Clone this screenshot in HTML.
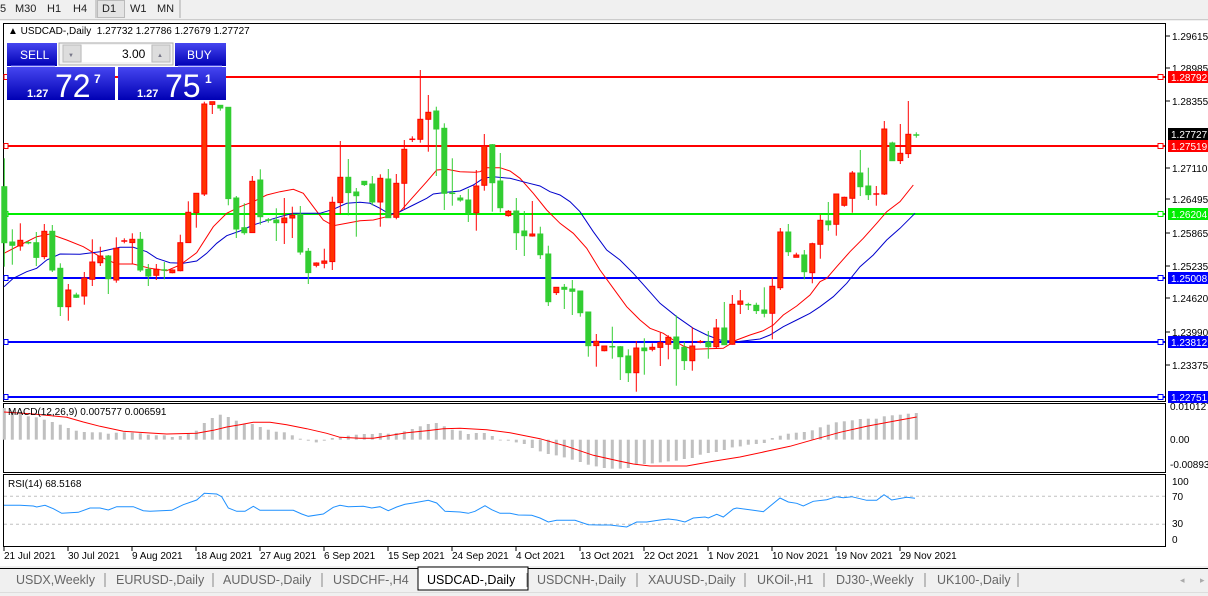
<!DOCTYPE html>
<html><head><meta charset="utf-8"><style>
body{margin:0;width:1208px;height:596px;overflow:hidden;background:#f0f0f0;font-family:"Liberation Sans",sans-serif;}
svg{position:absolute;left:0;top:0}
</style></head><body>
<svg id="s" width="1208" height="596" xmlns="http://www.w3.org/2000/svg" font-family="Liberation Sans, sans-serif">
<rect x="0" y="0" width="1208" height="596" fill="#f0f0f0"/>
<!-- toolbar -->
<g font-size="11" fill="#222">
<text x="0" y="12">5</text><text x="15" y="12">M30</text><text x="47" y="12">H1</text><text x="73" y="12">H4</text>
<line x1="96" y1="0" x2="96" y2="18" stroke="#aaa"/>
<rect x="97.5" y="0.5" width="27" height="17" fill="#e4e4e4" stroke="#bbb"/>
<text x="102" y="12">D1</text><text x="130" y="12">W1</text><text x="157" y="12">MN</text>
<line x1="180" y1="0" x2="180" y2="18" stroke="#aaa"/>
</g>
<line x1="0" y1="19.5" x2="1208" y2="19.5" stroke="#ccc"/>
<rect x="0" y="21" width="1208" height="545" fill="#fff"/>
<g id="g"></g>
</svg>
<script>
const g=document.getElementById('g');let h='';
function L(x1,y1,x2,y2,c,w,extra){h+=`<line x1="${x1}" y1="${y1}" x2="${x2}" y2="${y2}" stroke="${c}" stroke-width="${w||1}" ${extra||''}/>`;}
function R(x,y,w,hh,f,s){h+=`<rect x="${x}" y="${y}" width="${w}" height="${hh}" fill="${f}" ${s?`stroke="${s}"`:''}/>`;}
function T(x,y,t,sz,c,extra){h+=`<text x="${x}" y="${y}" font-size="${sz}" fill="${c}" ${extra||''}>${t}</text>`;}
function P(pts,c,w){h+=`<polyline points="${pts.map(p=>p.join(',')).join(' ')}" fill="none" stroke="${c}" stroke-width="${w||1}"/>`;}
// frames
R(3.5,23.5,1162,378,'none','#000');
R(3.5,403.5,1162,69,'none','#000');
R(3.5,474.5,1162,72,'none','#000');
// horizontal levels
const lv=[[77,'#ff0000','1.28792'],[146,'#ff0000','1.27519'],[214,'#00ee00','1.26204'],[278,'#0000ff','1.25008'],[342,'#0000ff','1.23812'],[397,'#0000ff','1.22751']];
lv.forEach(l=>{L(4,l[0],1165,l[0],l[1],2);R(4,l[0]-2.5,4,5,'#fff',l[1]);R(1158,l[0]-2.5,5,5,'#fff',l[1]);});
// candles
const C=[
['g',295,380,548,620],['g',508,546,556,614],['r',490,541,558,572],['g',543,547,549,553],['g',516,548,592,618],['r',492,514,590,598],['g',495,514,630,636],['g',610,625,740,768],['r',672,690,740,782],['g',698,705,712,714],
['r',636,654,708,734],['r',538,606,658,678],['r',560,588,608,618],['g',585,588,656,702],['r',532,565,660,668],['r',535,542,544,550],['r',520,538,548,612],['g',516,538,630,636],['g',612,628,648,678],['r',612,628,646,660],
['g',606,629,631,658],['r',628,630,638,640],['r',524,548,632,634],['r',424,457,548,548],['r',400,400,458,503],['r',125,132,402,408],['r',125,125,133,162],['g',136,136,144,152],['g',142,142,416,436],['g',408,414,507,534],
['g',430,503,518,524],['r',348,364,518,518],['g',328,360,470,494],['g',474,479,481,488],['g',445,480,488,543],['r',414,474,488,552],['r',440,466,474,534],['g',438,463,576,584],['g',564,574,638,672],['r',607,609,616,622],
['r',566,603,610,625],['r',410,427,605,630],['r',243,352,428,462],['g',297,352,398,466],['g',384,396,407,530],['g',363,364,374,378],['g',348,372,426,436],['r',343,355,426,500],['g',327,357,473,474],['r',342,370,472,478],
['r',240,268,370,448],['r',229,237,239,246],['r',30,178,238,248],['r',105,157,178,275],['g',140,153,207,348],['g',190,205,400,450],['g',295,399,401,437],['g',405,414,420,425],
['g',387,420,458,486],['r',330,378,458,512],['r',222,258,376,392],['g',252,254,368,455],['g',279,363,443,457],['r',450,454,467,470],['g',414,453,518,570],['g',453,513,527,588],['r',423,522,528,530],['g',500,522,584,597],
['g',557,582,725,738],['r',682,682,698,705],['g',672,682,688,747],['g',660,687,694,765],['g',693,693,758,770],['g',756,756,857,890],['r',822,844,857,920],['r',858,858,872,874],['g',800,858,862,896],['g',858,860,890,960],
['g',868,888,938,966],['r',843,864,938,995],['g',835,864,872,944],['r',850,862,868,874],['r',818,848,862,918],['r',826,832,853,898],['g',766,831,866,977],['g',845,862,902,930],['r',802,858,902,932],['r',840,844,846,850],
['g',813,846,860,896],['r',777,804,860,864],['g',726,804,854,855],['r',705,733,853,854],['r',690,723,733,762],['g',728,733,735,750],['g',728,736,752,762],['g',682,750,760,772],['r',652,679,760,838],['r',504,516,683,690],
['g',492,516,575,588],['r',578,585,592,592],['g',570,585,635,658],['r',548,551,638,670],['r',464,481,553,596],['g',426,483,494,512],['r',402,402,493,527],['r',410,412,436,440],['r',333,339,415,458],['g',270,339,380,408],
['g',323,378,404,420],['r',378,400,404,437],['r',183,207,402,405],['g',245,249,302,302],['r',192,280,302,312],['r',123,223,281,294],['g',217,224,226,233]];
const Y=z=>(60+z/3).toFixed(1);
// MAs
const rz4=[[12,580],[60,555],[110,530],[150,522],[200,540],[250,560],[300,590],[350,612],[400,612],[450,625],[500,632],[540,615],[590,578],[640,500],[680,460],[720,440],[760,425],[800,405],[840,395],[880,388],[910,400],[940,440],[970,480],[1000,497],[1040,490],[1080,482],[1120,480],[1160,470],[1200,455],[1240,410],[1280,365],[1310,330],[1340,328],[1380,335]];
const rz5=[[45,337],[60,335],[80,323],[120,323],[150,333],[180,355],[220,400],[260,450],[300,490],[340,520],[380,565],[420,630],[460,685],[500,740],[540,780],[570,805],[610,820],[640,840],[670,858],[700,868],[790,865],[830,840],[870,825],[910,812],[940,795],[970,765],[1010,738],[1050,705],[1080,665],[1100,655],[1130,620],[1170,575],[1210,535],[1250,490],[1280,455],[1320,425],[1360,375]];
const bz4=[[12,680],[40,655],[80,635],[110,625],[140,600],[180,582],[240,583],[300,575],[360,562],[400,562],[440,575],[470,595],[510,608],[550,610],[590,603],[620,580],[650,550],[680,527],[720,513],[760,495],[800,482],[840,470],[880,460],[920,460],[960,460],[1000,448],[1040,430],[1080,427],[1110,430],[1140,445],[1170,463],[1200,455],[1240,435],[1280,415],[1300,402],[1340,397],[1380,393]];
const bz5=[[40,375],[70,355],[100,350],[150,355],[200,368],[240,378],[270,395],[300,405],[330,425],[360,455],[400,515],[440,570],[480,600],[520,640],[560,685],[600,730],[650,770],[700,805],[740,825],[780,840],[830,845],[900,837],[930,825],[970,800],[1010,780],[1050,760],[1080,740],[1120,710],[1160,670],[1200,620],[1240,585],[1280,540],[1320,505],[1365,460]];
const cv=(a,o)=>a.map(p=>[(o+p[0]/3).toFixed(1),Y(p[1])]);
P(cv(rz4,0).concat(cv(rz5,460)),'#ff0000',1);
P(cv(bz4,0).concat(cv(bz5,460)),'#0000cc',1);
C.forEach((c,k)=>{const x=4.3+8*k;const col=c[0]=='r'?'#ff0000':'#32cd32';const fill=c[0]=='r'?'#ff3300':'#32cd32';
L(x.toFixed(1),Y(c[1]),x.toFixed(1),Y(c[4]),col,1);
let t=60+c[2]/3,b=60+c[3]/3;if(b-t<1.5){L((x-3).toFixed(1),((t+b)/2).toFixed(1),(x+3).toFixed(1),((t+b)/2).toFixed(1),col,1.5);}
else R((x-2.5).toFixed(1),t.toFixed(1),5,(b-t).toFixed(1),fill,col);});
// MACD
const M=[30,38,45,55,58,65,72,80,90,98,102,103,103,107,104,103,104,106,110,112,112,117,114,107,98,75,60,50,57,68,77,78,87,95,101,103,112,122,128,133,128,120,117,113,110,108,108,105,107,105,100,93,85,78,75,85,95,98,108,105,105,114,125,128,133,138,150,160,168,172,178,185,192,200,205,210,212,212,210,200,198,196,193,190,188,183,180,170,165,162,156,148,145,140,138,135,120,113,107,104,102,97,88,80,73,70,67,63,62,62,55,52,50,47,45];
const z0=398+125/3;
M.forEach((v,k)=>{const x=4.3+8*k-1.5;const y=398+v/3;R(x.toFixed(1),Math.min(y,z0).toFixed(1),3,Math.max(0.8,Math.abs(y-z0)).toFixed(1),'#c0c0c0');});
const s6=[[12,42],[100,48],[200,58],[250,72],[300,85],[370,100],[450,105],[500,108],[590,106],[640,97],[680,87],[720,80],[760,73],[810,73],[860,80],[920,92],[980,106],[1020,118],[1080,121],[1120,121],[1160,114],[1220,104],[1280,98],[1330,92],[1380,91]];
const s7=[[80,95],[150,104],[240,122],[320,145],[400,172],[480,190],[520,198],[570,204],[680,204],[760,190],[840,177],[920,160],[990,145],[1060,125],[1140,103],[1220,85],[1300,70],[1370,57]];
const Y2=z=>(398+z/3).toFixed(1);
const cv2=(a,o)=>a.map(p=>[(o+p[0]/3).toFixed(1),Y2(p[1])]);
P(cv2(s6,0).concat(cv2(s7,460)),'#ff0000',1);
// RSI
L(4,Y2(295),1165,Y2(295),'#c0c0c0',1,'stroke-dasharray="3,3"');
L(4,Y2(379),1165,Y2(379),'#c0c0c0',1,'stroke-dasharray="3,3"');
const r6=[[12,322],[60,322],[100,324],[110,327],[135,322],[160,332],[185,346],[235,343],[270,330],[300,330],[325,336],[350,326],[400,326],[430,338],[450,340],[515,337],[550,320],[590,306],[613,286],[650,288],[665,296],[685,330],[710,340],[735,340],[760,325],[780,337],[880,337],[905,348],[925,355],[970,348],[1000,328],[1020,322],[1045,326],[1090,325],[1115,330],[1140,326],[1165,338],[1190,327],[1215,319],[1240,315],[1285,307],[1310,315],[1335,340],[1380,342]];
const r7=[[25,346],[45,340],[75,323],[95,335],[120,346],[150,346],[175,351],[215,352],[240,360],[265,372],[290,367],[345,367],[385,380],[420,381],[450,381],[500,387],[530,372],[560,372],[600,366],[625,363],[650,366],[675,372],[700,360],[735,357],[745,360],[770,349],[790,357],[820,333],[830,330],[880,337],[910,341],[960,300],[985,312],[1010,316],[1030,324],[1060,310],[1100,305],[1130,296],[1150,299],[1175,296],[1220,307],[1250,307],[1272,290],[1295,306],[1340,298],[1365,301]];
P(cv2(r6,0).concat(cv2(r7,460)),'#1e90ff',1);
// labels
T(8,34,'▲ USDCAD-,Daily  1.27732 1.27786 1.27679 1.27727',10,'#000','xml:space="preserve"');
T(8,415,'MACD(12,26,9) 0.007577 0.006591',10,'#000');
T(8,487,'RSI(14) 68.5168',10,'#000');
// price axis
[[36,'1.29615'],[68,'1.28985'],[101,'1.28355'],[168,'1.27110'],[199,'1.26495'],[233,'1.25865'],[266,'1.25235'],[298,'1.24620'],[332,'1.23990'],[365,'1.23375']].forEach(p=>{L(1166,p[0],1170,p[0],'#000');T(1172,p[0]+4,p[1],10,'#000');});
[[77,'#ff0000','1.28792','#fff'],[134,'#000','1.27727','#fff'],[146,'#ff0000','1.27519','#fff'],[214,'#00ee00','1.26204','#fff'],[278,'#0000ff','1.25008','#fff'],[342,'#0000ff','1.23812','#fff'],[397,'#0000ff','1.22751','#fff']].forEach(p=>{R(1168,p[0]-6,40,12,p[1]);T(1171,p[0]+4,p[2],10,p[3]);});
[[410,'0.010127'],[443,'0.00'],[468,'-0.008939']].forEach(p=>T(1170,p[0],p[1],10,'#000'));
[[485,'100'],[500,'70'],[527,'30'],[543,'0']].forEach(p=>T(1172,p[0],p[1],10,'#000'));
// dates
['21 Jul 2021','30 Jul 2021','9 Aug 2021','18 Aug 2021','27 Aug 2021','6 Sep 2021','15 Sep 2021','24 Sep 2021','4 Oct 2021','13 Oct 2021','22 Oct 2021','1 Nov 2021','10 Nov 2021','19 Nov 2021','29 Nov 2021'].forEach((d,i)=>{const x=4+64*i;L(x,546,x,551,'#000');T(x,559,d,10,'#000');});
// trade panel
h+=`<defs><linearGradient id="bg" x1="0" y1="0" x2="0" y2="1"><stop offset="0" stop-color="#4646f0"/><stop offset="1" stop-color="#0000b4"/></linearGradient></defs>`;
R(7,43,50,23,'url(#bg)');T(20,59,'SELL',12,'#fff');
R(175,43,51,23,'url(#bg)');T(187,59,'BUY',12,'#fff');
R(59,43,114,22,'#f4f4f4','#aaa');R(63,45,18,17,'#ddd','#bbb');R(152,45,18,17,'#ddd','#bbb');R(82,45,69,17,'#fff');
T(122,58,'3.00',12,'#000');T(68,57,'▼',6,'#778');T(157,57,'▲',6,'#778');
R(7,67,108,33,'url(#bg)');R(118,67,108,33,'url(#bg)');
L(11,66,55,66,'#8080ff');L(178,66,222,66,'#8080ff');
T(27,97,'1.27',11,'#fff','font-weight="bold"');T(55,97,'72',32,'#fff');T(94,83,'7',12,'#fff','font-weight="bold"');
T(137,97,'1.27',11,'#fff','font-weight="bold"');T(165,97,'75',32,'#fff');T(205,83,'1',12,'#fff','font-weight="bold"');
// tabs
R(0,566,1208,30,'#f0f0f0');L(0,568.5,1208,568.5,'#000',1);
R(418,567,110,23,'#fff','#000');
const tabs=[[16,'USDX,Weekly'],[116,'EURUSD-,Daily'],[223,'AUDUSD-,Daily'],[333,'USDCHF-,H4'],[427,'USDCAD-,Daily'],[537,'USDCNH-,Daily'],[648,'XAUUSD-,Daily'],[757,'UKOil-,H1'],[836,'DJ30-,Weekly'],[937,'UK100-,Daily']];
tabs.forEach(t=>T(t[0],584,t[1],12.5,t[1]=='USDCAD-,Daily'?'#000':'#666'));
[105,213,322,527,637,745,824,925,1018].forEach(x=>L(x,573,x,587,'#888'));
T(1180,583,'◂',9,'#aaa');T(1200,583,'▸',9,'#aaa');
L(0,592.5,1208,592.5,'#ddd');
g.innerHTML=h;
</script>
</body></html>
